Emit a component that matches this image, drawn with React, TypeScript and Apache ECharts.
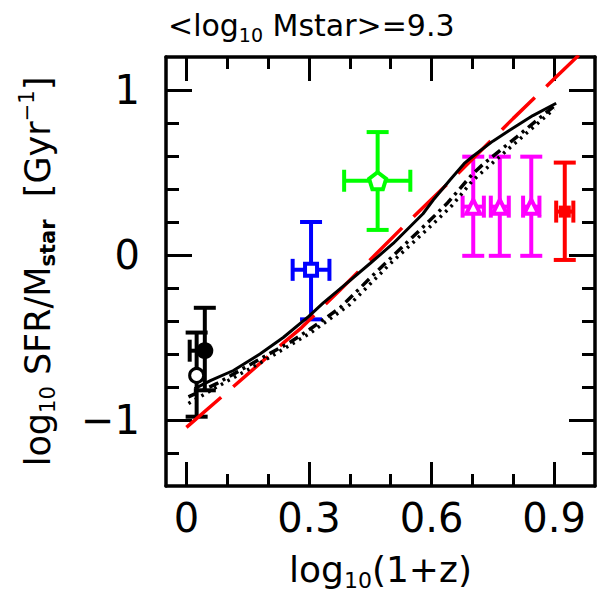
import React, { useEffect, useRef } from 'react';
import * as echarts from 'echarts';

const FONT = 'DejaVu Sans';

// axis ranges and ticks
const X_MIN = -0.05;
const X_MAX = 1.0;
const Y_MIN = -1.4;
const Y_MAX = 1.2;
const xMajorTicks = [0, 0.3, 0.6, 0.9];
const xMinorTicks = [0.1, 0.2, 0.4, 0.5, 0.7, 0.8];
const yMajorTicks = [-1, 0, 1];
const yMinorTicks = [-1.2, -0.8, -0.6, -0.4, -0.2, 0.2, 0.4, 0.6, 0.8];

// observational points: centre, x range, y range
const pointX = [0.045, 0.025, 0.305, 0.468, 0.702, 0.767, 0.844, 0.926];
const pointY = [-0.58, -0.73, -0.09, 0.45, 0.293, 0.293, 0.293, 0.263];
const pointXLow = [0.008, 0.025, 0.26, 0.386, 0.676, 0.745, 0.824, 0.905];
const pointXHigh = [0.045, 0.025, 0.35, 0.548, 0.728, 0.789, 0.864, 0.947];
const pointYLow = [-0.82, -0.98, -0.39, 0.152, -0.005, -0.005, -0.005, -0.03];
const pointYHigh = [-0.32, -0.47, 0.2, 0.745, 0.596, 0.596, 0.596, 0.56];

// model curves
const solidX = [0.02, 0.06, 0.115, 0.18, 0.237, 0.3, 0.335, 0.4, 0.45, 0.506, 0.579, 0.604, 0.645, 0.68, 0.702, 0.75, 0.79, 0.848, 0.905];
const solidY = [-0.81, -0.76, -0.7, -0.6, -0.5, -0.37, -0.29, -0.155, -0.05, 0.07, 0.25, 0.333, 0.455, 0.555, 0.6, 0.69, 0.755, 0.845, 0.92];
const dashDotX = [0.005, 0.074, 0.18, 0.253, 0.302, 0.376, 0.466, 0.596, 0.637, 0.7, 0.726, 0.808, 0.906];
const dashDotY = [-0.86, -0.78, -0.63, -0.53, -0.45, -0.32, -0.1, 0.21, 0.31, 0.49, 0.55, 0.715, 0.915];
const dottedX = [0.005, 0.074, 0.18, 0.302, 0.4, 0.5, 0.6, 0.65, 0.7, 0.75, 0.81, 0.9];
const dottedY = [-0.9, -0.8, -0.655, -0.475, -0.3, -0.05, 0.18, 0.3, 0.45, 0.56, 0.69, 0.885];
const redDashX = [0.0, 0.1, 0.241, 0.282, 0.376, 0.539, 0.636, 0.8, 0.897, 0.96];
const redDashY = [-1.045, -0.83, -0.525, -0.44, -0.212, 0.192, 0.424, 0.828, 1.06, 1.21];

const pairs = (xs: number[], ys: number[]) => xs.map((x, i) => [x, ys[i]]);

// marker groups (indices into the point arrays) with their styles
const groups = [
  { idx: [0], color: '#000000', symbol: 'circle', size: 17, filled: true },
  { idx: [1], color: '#000000', symbol: 'circle', size: 14, filled: false, bw: 3 },
  { idx: [2], color: '#0000ff', symbol: 'rect', size: 12, filled: false, bw: 4 },
  { idx: [3], color: '#00ff00', symbol: 'path://M0,-10 L9.51,-3.09 L5.88,8.09 L-5.88,8.09 L-9.51,-3.09 Z', size: 17, filled: false, bw: 4 },
  { idx: [4, 5, 6], color: '#ff00ff', symbol: 'triangle', size: 14, filled: false, bw: 4 },
  { idx: [7], color: '#ff0000', symbol: 'rect', size: 12, filled: true },
];

const pointColor = (i: number) => {
  const g = groups.find((gg) => gg.idx.includes(i));
  return g ? g.color : '#000';
};

const richBase = (size: number, subSize: number, shift: number) => ({
  a: { fontSize: size, fontFamily: FONT, fontWeight: 'normal', color: '#000', lineHeight: size + 2 },
  s: { fontSize: subSize, fontFamily: FONT, fontWeight: 'normal', color: '#000', lineHeight: subSize, padding: [shift, 0, 0, 0] },
  sb: { fontSize: subSize, fontFamily: FONT, color: '#000', lineHeight: subSize, padding: [shift, 0, 0, 0], fontWeight: 'bold' },
  p: { fontSize: subSize, fontFamily: FONT, fontWeight: 'normal', color: '#000', lineHeight: subSize, padding: [0, 0, shift, 0] },
});

function buildOption() {
  const axisLineStyle = { color: '#000', width: 3.5 };
  const tickLine = { color: '#000', width: 3 };
  const mkX = (pos: 'bottom' | 'top', major: boolean, main: boolean) => ({
    type: 'value',
    min: X_MIN,
    max: X_MAX,
    position: pos,
    axisLine: { show: main, onZero: false, lineStyle: axisLineStyle },
    axisTick: { show: true, inside: true, length: major ? 24 : 12, customValues: major ? xMajorTicks : xMinorTicks, lineStyle: tickLine },
    axisLabel: main && pos === 'bottom'
      ? { show: true, customValues: xMajorTicks, formatter: (v: number) => (v === 0 ? '0' : v.toFixed(1)), fontSize: 40, fontFamily: FONT, color: '#000', margin: 12 }
      : { show: false },
    splitLine: { show: false },
    ...(main && pos === 'bottom'
      ? {
          name: '{a|log}{s|10}{a|(1+z)}',
          nameLocation: 'middle',
          nameGap: 64,
          nameTextStyle: { rich: richBase(36, 22, 22) },
        }
      : {}),
  });
  const mkY = (pos: 'left' | 'right', major: boolean, main: boolean) => ({
    type: 'value',
    min: Y_MIN,
    max: Y_MAX,
    position: pos,
    axisLine: { show: main, onZero: false, lineStyle: axisLineStyle },
    axisTick: { show: true, inside: true, length: major ? 26 : 13, customValues: major ? yMajorTicks : yMinorTicks, lineStyle: tickLine },
    axisLabel: main && pos === 'left'
      ? { show: true, customValues: yMajorTicks, formatter: (v: number) => (v === 0 ? '0' : v < 0 ? '\u2212' + Math.abs(v) : String(v)), fontSize: 40, fontFamily: FONT, color: '#000', margin: 26 }
      : { show: false },
    splitLine: { show: false },
    ...(main && pos === 'left'
      ? {
          name: '{a|log}{s|10}{a| SFR/M}{sb|star}{a|  [Gyr}{p|\u22121}{a|]}',
          nameLocation: 'middle',
          nameGap: 110,
          nameRotate: 90,
          nameTextStyle: { rich: richBase(35, 21, 21) },
        }
      : {}),
  });

  const errData = pointX.map((x, i) => [x, pointY[i], pointXLow[i], pointXHigh[i], pointYLow[i], pointYHigh[i]]);

  const series: any[] = [
    {
      type: 'custom',
      xAxisIndex: 0,
      yAxisIndex: 0,
      z: 2,
      silent: true,
      data: errData,
      renderItem: (params: any, api: any) => {
        const x = api.value(0), y = api.value(1);
        const xl = api.value(2), xh = api.value(3), yl = api.value(4), yh = api.value(5);
        const color = pointColor(params.dataIndex);
        const style = { stroke: color, lineWidth: 4, fill: null };
        const pL = api.coord([xl, y]);
        const pR = api.coord([xh, y]);
        const pB = api.coord([x, yl]);
        const pT = api.coord([x, yh]);
        const cap = 11;
        const children: any[] = [];
        const ln = (x1: number, y1: number, x2: number, y2: number) =>
          children.push({ type: 'line', shape: { x1, y1, x2, y2 }, style });
        ln(pB[0], pB[1], pT[0], pT[1]);
        ln(pB[0] - cap, pB[1], pB[0] + cap, pB[1]);
        ln(pT[0] - cap, pT[1], pT[0] + cap, pT[1]);
        if (xh - xl > 1e-6) {
          ln(pL[0], pL[1], pR[0], pR[1]);
          if (xl < x) ln(pL[0], pL[1] - cap, pL[0], pL[1] + cap);
          if (xh > x) ln(pR[0], pR[1] - cap, pR[0], pR[1] + cap);
        }
        return { type: 'group', children };
      },
    },
    {
      type: 'line',
      data: pairs(redDashX, redDashY),
      showSymbol: false,
      symbol: 'none',
      clip: true,
      z: 3,
      lineStyle: { color: '#ff0000', width: 3.5, type: [46, 16] },
    },
    {
      type: 'line',
      data: pairs(dottedX, dottedY),
      showSymbol: false,
      symbol: 'none',
      clip: true,
      z: 3,
      lineStyle: { color: '#000', width: 3.5, type: [2.5, 5] },
    },
    {
      type: 'line',
      data: pairs(dashDotX, dashDotY),
      showSymbol: false,
      symbol: 'none',
      clip: true,
      z: 3,
      lineStyle: { color: '#000', width: 3.5, type: [10, 5, 3, 5] },
    },
    {
      type: 'line',
      data: pairs(solidX, solidY),
      showSymbol: false,
      symbol: 'none',
      clip: true,
      z: 3,
      lineStyle: { color: '#000', width: 3 },
    },
    ...groups.map((g) => ({
      type: 'scatter',
      z: 4,
      silent: true,
      symbol: g.symbol,
      symbolSize: g.size,
      data: g.idx.map((i) => [pointX[i], pointY[i]]),
      itemStyle: g.filled
        ? { color: g.color, opacity: 1 }
        : { color: '#ffffff', borderColor: g.color, borderWidth: g.bw, opacity: 1 },
    })),
  ];

  return {
    animation: false,
    backgroundColor: '#ffffff',
    title: {
      text: '{a|<log}{s|10}{a| Mstar>=9.3}',
      left: 163,
      top: 4,
      textStyle: { fontWeight: 'normal', rich: richBase(30, 19, 20) },
    },
    grid: { left: 166, right: 4, top: 57, bottom: 114, containLabel: false },
    xAxis: [mkX('bottom', true, true), mkX('bottom', false, false), mkX('top', true, true), mkX('top', false, false)],
    yAxis: [mkY('left', true, true), mkY('left', false, false), mkY('right', true, true), mkY('right', false, false)],
    series,
  };
}

export default function App() {
  const ref = useRef<HTMLDivElement>(null);
  useEffect(() => {
    const chart = echarts.init(ref.current!, null, { renderer: 'svg' });
    chart.setOption(buildOption() as any);
    return () => chart.dispose();
  }, []);
  return (
    <div
      ref={ref}
      style={{ position: 'absolute', left: 0, top: 0, width: 599, height: 600, background: '#fff' }}
    />
  );
}
